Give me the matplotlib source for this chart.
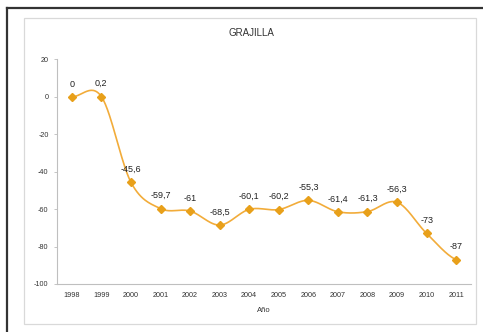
import numpy as np
import matplotlib
matplotlib.use("Agg")
import matplotlib.pyplot as plt
from matplotlib.patches import Rectangle
from matplotlib.lines import Line2D

plt.rcParams['font.family'] = ['Liberation Sans', 'DejaVu Sans']

years = ['1998', '1999', '2000', '2001', '2002', '2003', '2004',
         '2005', '2006', '2007', '2008', '2009', '2010', '2011']
values = [0, 0.2, -45.6, -59.7, -61, -68.5, -60.1,
          -60.2, -55.3, -61.4, -61.3, -56.3, -73, -87]
title = 'GRAJILLA'
xlabel = 'Año'
yticks = [20, 0, -20, -40, -60, -80, -100]

line_color = '#F2AC3A'
marker_color = '#E8A01A'


def smooth_curve(x, y, steps=30):
    """Catmull-Rom spline through the points (Excel-like smoothed line)."""
    x = np.asarray(x, float)
    y = np.asarray(y, float)
    px = np.concatenate([[2 * x[0] - x[1]], x, [2 * x[-1] - x[-2]]])
    py = np.concatenate([[y[0]], y, [y[-1]]])
    xs, ys = [], []
    t = np.linspace(0, 1, steps)
    for i in range(1, len(px) - 2):
        for p, out in ((px, xs), (py, ys)):
            p0, p1, p2, p3 = p[i - 1], p[i], p[i + 1], p[i + 2]
            seg = 0.5 * ((2 * p1) + (-p0 + p2) * t
                         + (2 * p0 - 5 * p1 + 4 * p2 - p3) * t ** 2
                         + (-p0 + 3 * p1 - 3 * p2 + p3) * t ** 3)
            out.extend(seg)
    return np.array(xs), np.array(ys)


fig = plt.figure(figsize=(4.83, 3.32), dpi=100)

# outer dark frame (top and left edges visible) and inner light chart border
fig.add_artist(Line2D([7 / 483, 1], [1 - 8 / 332, 1 - 8 / 332],
                      transform=fig.transFigure, color='#333333', lw=1.6))
fig.add_artist(Line2D([7 / 483, 7 / 483], [0, 1 - 8 / 332],
                      transform=fig.transFigure, color='#333333', lw=1.6))
fig.add_artist(Rectangle((24 / 483, 1 - 324 / 332), (476 - 24) / 483,
                         (324 - 18) / 332, transform=fig.transFigure,
                         fill=False, edgecolor='#D9D9D9', lw=0.9))

ax = fig.add_axes([57 / 483, 1 - 284 / 332, (471 - 57) / 483, (284 - 59.5) / 332])

x = np.arange(len(years))
sx, sy = smooth_curve(x, values)
ax.plot(sx, sy, color=line_color, lw=1.2, zorder=2)
ax.plot(x, values, linestyle='none', marker='D', markersize=3.8,
        color=marker_color, zorder=3)

for xi, v in zip(x, values):
    label = ('%g' % v).replace('.', ',')
    ax.annotate(label, (xi, v), xytext=(0, 6), textcoords='offset points',
                ha='center', va='bottom', fontsize=6.5, color='#222222')

ax.set_xlim(-0.5, len(years) - 0.5)
ax.set_ylim(-100, 20)
ax.set_yticks(yticks)
ax.set_yticklabels([str(t) for t in yticks])
ax.set_xticks(x)
ax.set_xticklabels(years)
ax.tick_params(axis='both', labelsize=5.2, colors='#333333', length=2.5,
               width=0.6, direction='out')
ax.tick_params(axis='x', length=0, pad=6)
ax.tick_params(axis='y', color='#BBBBBB')
ax.axhline(20, color='#F0F0F0', lw=0.6, ls=(0, (6, 4)), zorder=0)

for side in ('top', 'right'):
    ax.spines[side].set_visible(False)
for side in ('left', 'bottom'):
    ax.spines[side].set_color('#BFBFBF')
    ax.spines[side].set_linewidth(0.8)

fig.text(251 / 483, 1 - 33 / 332, title, ha='center', va='center',
         fontsize=7, color='#333333')
fig.text(264 / 483, 1 - 311 / 332, xlabel, ha='center', va='center',
         fontsize=5.5, color='#333333')

fig.savefig('out.png', dpi=100)
